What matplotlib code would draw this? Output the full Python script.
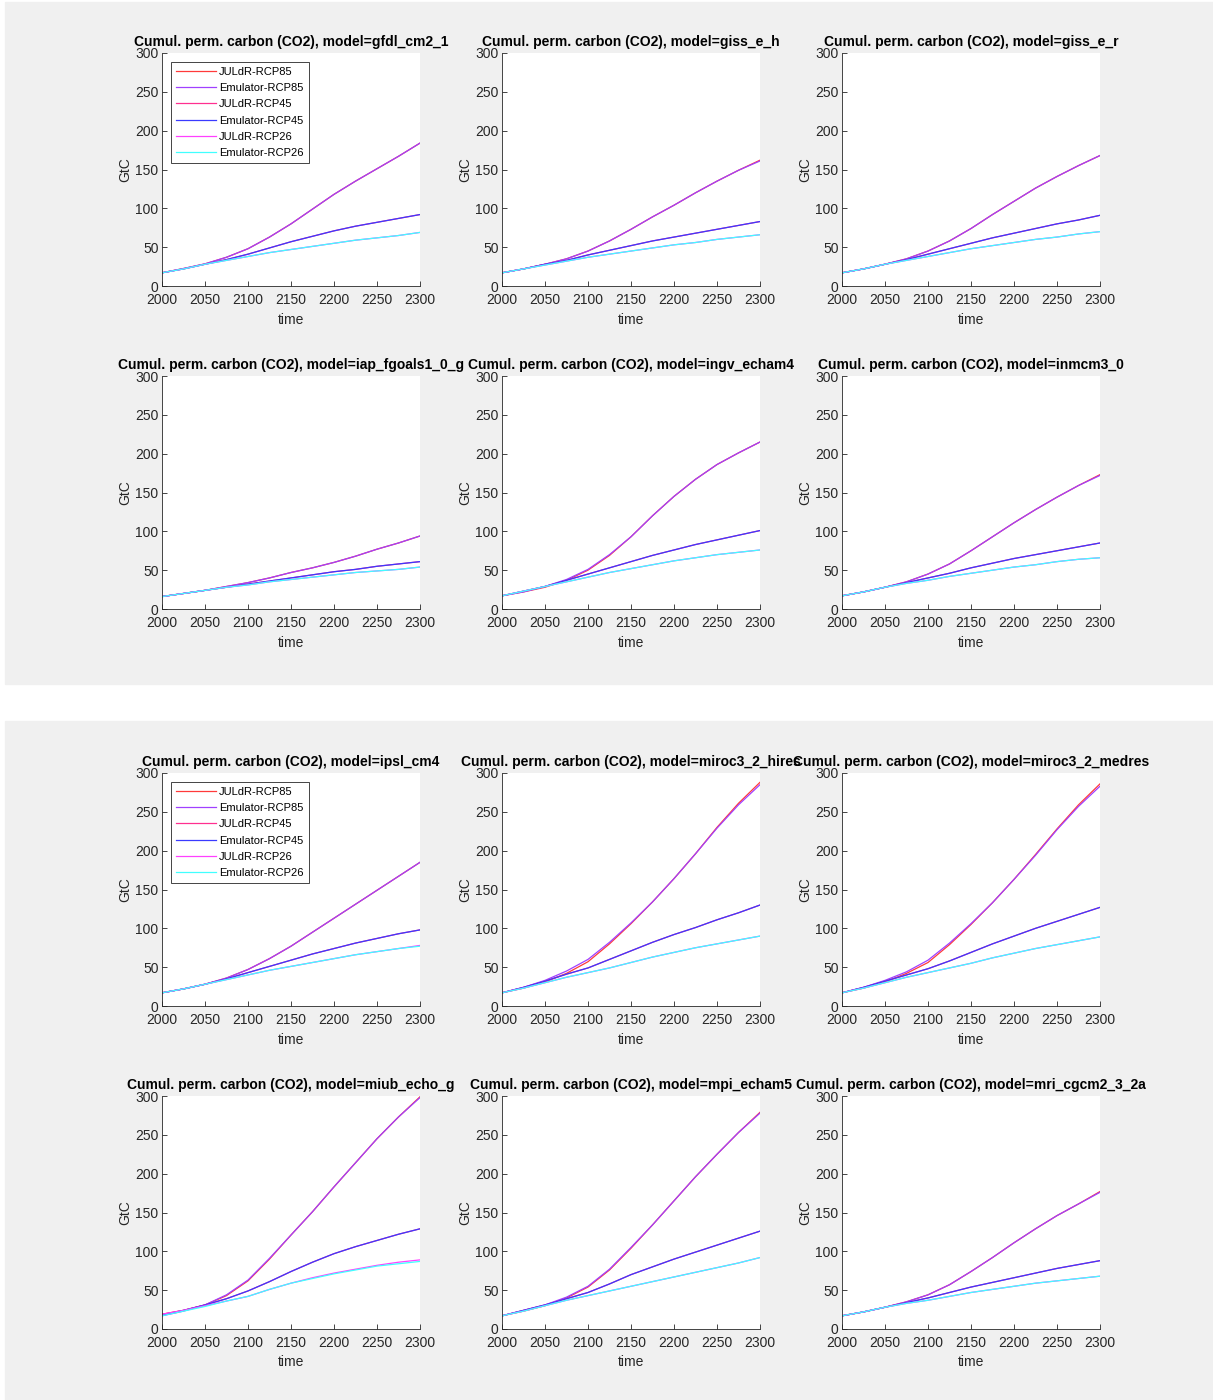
import numpy as np
import matplotlib
matplotlib.use('Agg')
import matplotlib.pyplot as plt
from matplotlib.patches import Rectangle

plt.rcParams['font.family'] = ['Liberation Sans', 'DejaVu Sans']

years = [2000, 2025, 2050, 2075, 2100, 2125, 2150, 2175, 2200, 2225, 2250, 2275, 2300]

models = ['gfdl_cm2_1', 'giss_e_h', 'giss_e_r',
          'iap_fgoals1_0_g', 'ingv_echam4', 'inmcm3_0',
          'ipsl_cm4', 'miroc3_2_hires', 'miroc3_2_medres',
          'miub_echo_g', 'mpi_echam5', 'mri_cgcm2_3_2a']

# cumulative permafrost carbon, GtC, one row per model
juldr_rcp85 = [
    [17, 22.5, 28.5, 37, 48, 63, 80, 99, 118, 135, 151, 167, 184],
    [17, 22, 28, 35, 45, 58, 73, 89, 104, 120, 135, 149, 162],
    [17, 22, 28, 35, 45, 58, 74, 92, 109, 126, 141, 155, 168],
    [16, 20, 24, 29, 34, 40, 47, 53, 60, 68, 77, 85, 94],
    [17, 22, 28, 37, 50, 69, 93, 120, 145, 167, 186, 201, 215],
    [17, 22, 28, 35, 45, 58, 75, 93, 111, 128, 144, 159, 173],
    [17, 22, 28, 36, 47, 61, 77, 95, 113, 131, 149, 167, 185],
    [17, 23, 31, 42, 57, 80, 106, 134, 164, 196, 230, 261, 288],
    [17, 23, 31, 42, 56, 79, 105, 133, 163, 195, 228, 259, 286],
    [19, 24, 31, 43, 62, 90, 121, 151, 183, 214, 245, 273, 299],
    [17, 23, 30, 40, 54, 76, 104, 134, 165, 196, 225, 253, 279],
    [17, 22, 28, 35, 44, 57, 74, 92, 111, 129, 146, 161, 177],
]
emul_rcp85 = [
    [17, 22.5, 28.5, 37, 48, 63, 80, 99, 118, 135, 151, 167, 184],
    [17, 22, 28, 35, 45, 58, 73, 89, 104, 120, 135, 149, 161],
    [17, 22, 28, 35, 45, 58, 74, 92, 109, 126, 141, 155, 168],
    [16, 20, 24, 29, 34, 40, 47, 53, 60, 68, 77, 85, 94],
    [17, 22, 29, 38, 51, 70, 93, 120, 145, 167, 186, 201, 215],
    [17, 22, 28, 35, 45, 58, 75, 93, 111, 128, 144, 159, 172],
    [17, 22, 28, 36, 47, 61, 77, 95, 113, 131, 149, 167, 185],
    [17, 24, 33, 45, 60, 82, 107, 134, 164, 196, 229, 259, 285],
    [17, 24, 33, 44, 59, 81, 106, 133, 163, 194, 227, 257, 283],
    [17, 23, 31, 44, 63, 91, 121, 151, 183, 214, 245, 273, 298],
    [17, 24, 31, 41, 55, 77, 105, 134, 165, 196, 225, 253, 278],
    [17, 22, 28, 35, 44, 57, 74, 92, 111, 129, 146, 161, 176],
]
juldr_rcp45 = [
    [17, 22, 28, 34, 41, 49, 57, 64, 71, 77, 82, 87, 92],
    [17, 22, 28, 33, 40, 46, 52, 58, 63, 68, 73, 78, 83],
    [17, 22, 28, 34, 41, 48, 55, 62, 68, 74, 80, 85, 91],
    [16, 20, 24, 28, 32, 36, 40, 44, 48, 51, 55, 58, 61],
    [17, 23, 29, 37, 45, 53, 61, 69, 76, 83, 89, 95, 101],
    [17, 22, 28, 34, 40, 46, 53, 59, 65, 70, 75, 80, 85],
    [17, 22, 28, 35, 43, 51, 59, 67, 74, 81, 87, 93, 98],
    [17, 24, 32, 41, 49, 60, 71, 82, 92, 101, 111, 120, 130],
    [17, 24, 32, 40, 48, 58, 69, 80, 90, 100, 109, 118, 127],
    [19, 24, 31, 39, 49, 61, 74, 86, 97, 106, 114, 122, 129],
    [17, 24, 31, 39, 47, 58, 70, 80, 90, 99, 108, 117, 126],
    [17, 22, 28, 34, 40, 47, 54, 60, 66, 72, 78, 83, 88],
]
emul_rcp45 = [
    [17, 22, 28, 34, 41, 49, 57, 64, 71, 77, 82, 87, 92],
    [17, 22, 28, 33, 40, 46, 52, 58, 63, 68, 73, 78, 83],
    [17, 22, 28, 34, 41, 48, 55, 62, 68, 74, 80, 85, 91],
    [16, 20, 24, 28, 32, 36, 40, 44, 48, 51, 55, 58, 61],
    [17, 23, 29, 37, 45, 53, 61, 69, 76, 83, 89, 95, 101],
    [17, 22, 28, 34, 40, 46, 53, 59, 65, 70, 75, 80, 85],
    [17, 22, 28, 35, 43, 51, 59, 67, 74, 81, 87, 93, 98],
    [17, 24, 32, 41, 49, 60, 71, 82, 92, 101, 111, 120, 130],
    [17, 24, 32, 40, 48, 58, 69, 80, 90, 100, 109, 118, 127],
    [18, 24, 31, 39, 49, 61, 74, 86, 97, 106, 114, 122, 129],
    [17, 24, 31, 39, 47, 58, 70, 80, 90, 99, 108, 117, 126],
    [17, 22, 28, 34, 40, 47, 54, 60, 66, 72, 78, 83, 88],
]
juldr_rcp26 = [
    [17, 22, 28, 33, 38, 43, 47, 51, 55, 59, 62, 65, 69],
    [17, 22, 27, 32, 37, 41, 45, 49, 53, 56, 60, 63, 66],
    [17, 22, 28, 33, 38, 43, 48, 52, 56, 60, 63, 67, 70],
    [16, 20, 24, 28, 31, 35, 38, 41, 44, 47, 49, 51, 54],
    [17, 23, 29, 35, 41, 47, 52, 57, 62, 66, 70, 73, 76],
    [17, 22, 28, 33, 37, 42, 46, 50, 54, 57, 61, 64, 66],
    [17, 22, 28, 34, 40, 46, 51, 56, 61, 66, 70, 74, 78],
    [17, 23, 30, 37, 43, 49, 56, 63, 69, 75, 80, 85, 90],
    [17, 23, 30, 37, 43, 49, 55, 62, 68, 74, 79, 84, 89],
    [19, 24, 30, 36, 42, 51, 59, 66, 72, 77, 82, 86, 89],
    [17, 23, 30, 37, 43, 49, 55, 61, 67, 73, 79, 85, 92],
    [17, 22, 28, 33, 37, 42, 47, 51, 55, 59, 62, 65, 68],
]
emul_rcp26 = [
    [17, 22, 28, 33, 38, 43, 47, 51, 55, 59, 62, 65, 69],
    [17, 22, 27, 32, 37, 41, 45, 49, 53, 56, 60, 63, 66],
    [17, 22, 28, 33, 38, 43, 48, 52, 56, 60, 63, 67, 70],
    [16, 20, 24, 28, 31, 35, 38, 41, 44, 47, 49, 51, 54],
    [17, 23, 29, 35, 41, 47, 52, 57, 62, 66, 70, 73, 76],
    [17, 22, 28, 33, 37, 42, 46, 50, 54, 57, 61, 64, 66],
    [17, 22, 28, 34, 40, 46, 51, 56, 61, 66, 70, 74, 77],
    [17, 23, 30, 37, 43, 49, 56, 63, 69, 75, 80, 85, 90],
    [17, 23, 30, 37, 43, 49, 55, 62, 68, 74, 79, 84, 89],
    [17, 23, 29, 36, 42, 51, 59, 65, 71, 76, 81, 84, 87],
    [17, 23, 30, 37, 43, 49, 55, 61, 67, 73, 79, 85, 92],
    [17, 22, 28, 33, 37, 42, 47, 51, 55, 59, 62, 65, 68],
]

series = [('JULdR-RCP85', juldr_rcp85, '#ff3a3a'),
          ('Emulator-RCP85', emul_rcp85, '#a040ff'),
          ('JULdR-RCP45', juldr_rcp45, '#ff3090'),
          ('Emulator-RCP45', emul_rcp45, '#3a3aff'),
          ('JULdR-RCP26', juldr_rcp26, '#ff40ff'),
          ('Emulator-RCP26', emul_rcp26, '#40ffff')]

W, H = 1213, 1400
fig = plt.figure(figsize=(W/100, H/100), dpi=100)
fig.patch.set_facecolor('white')

# two grey figure windows stacked
for (x0, y0, x1, y1) in [(5, 2, 1213, 684), (5, 721, 1213, 1400)]:
    fig.patches.append(Rectangle((x0/W, 1 - y1/H), (x1-x0)/W, (y1-y0)/H,
                                 transform=fig.transFigure, color='#f0f0f0', zorder=-10))

lefts = [162, 502, 842]
tops = [53, 376, 773, 1096]
aw, ah = 258, 233
dark = '#262626'

for k, m in enumerate(models):
    r, c = k // 3, k % 3
    ax = fig.add_axes([lefts[c]/W, 1 - (tops[r]+ah)/H, aw/W, ah/H])
    for name, data, col in series:
        ax.plot(years, data[k], '-', color=col, lw=0.9, label=name)
    ax.set_xlim(2000, 2300)
    ax.set_ylim(0, 300)
    ax.set_xticks(range(2000, 2301, 50))
    ax.set_yticks(range(0, 301, 50))
    ax.spines['top'].set_visible(False)
    ax.spines['right'].set_visible(False)
    for s in ['left', 'bottom']:
        ax.spines[s].set_color(dark)
        ax.spines[s].set_linewidth(0.6)
    ax.tick_params(direction='in', length=3.5, width=0.6, colors=dark,
                   labelsize=10)
    ax.tick_params(axis='x', pad=5)
    ax.tick_params(axis='y', pad=2.5)
    ax.set_xlabel('time', fontsize=10, color=dark, labelpad=4)
    ax.set_ylabel('GtC', fontsize=10, color=dark, labelpad=2)
    ax.set_title('Cumul. perm. carbon (CO2), model=' + m, fontsize=10,
                 fontweight='bold', pad=5)
    if k in (0, 6):
        leg = ax.legend(loc='upper left', fontsize=8, fancybox=False,
                        framealpha=1, edgecolor=dark, handlelength=3.6,
                        handletextpad=0.3, borderpad=0.45, labelspacing=0.56,
                        borderaxespad=0.8, bbox_to_anchor=(0, 1))
        leg.get_frame().set_linewidth(0.6)

fig.savefig('out.png', dpi=100, facecolor='white')
